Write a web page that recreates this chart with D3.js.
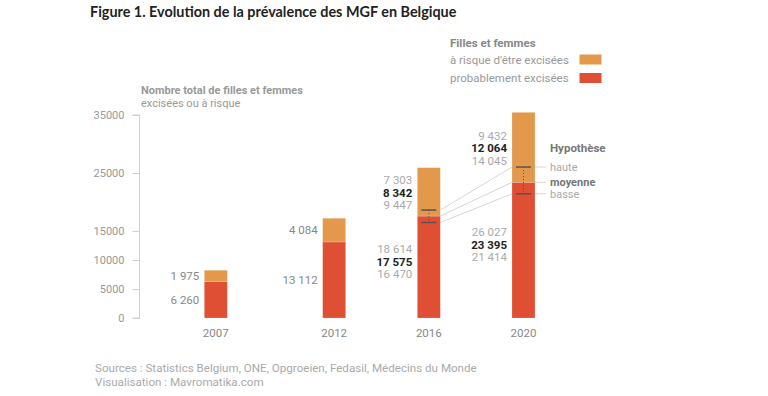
<!DOCTYPE html>
<html><head><meta charset="utf-8">
<script src="https://cdn.jsdelivr.net/npm/d3@7"></script>
<style>
body{margin:0;background:#fff;}
svg{display:block;}
</style></head>
<body>
<svg id="c" width="768" height="396"></svg>
<script>
const years = [2007, 2012, 2016, 2020];
const excised = [6260, 13112, 17575, 23395];          // probablement excisées (hypothèse moyenne)
const atRisk = [1975, 4084, 8342, 12064];             // à risque d'être excisées (moyenne)
const excisedHaute = [null, null, 18614, 26027];
const excisedBasse = [null, null, 16470, 21414];
const atRiskHaute = [null, null, 7303, 9432];
const atRiskBasse = [null, null, 9447, 14045];
const yTicks = [0, 5000, 10000, 15000, 25000, 35000];
const hypLabels = ["haute", "moyenne", "basse"];
const legendLabels = ["à risque d'être excisées", "probablement excisées"];

const C_ORANGE = "#e3994c", C_RED = "#de4f33";
const FONT = "Roboto, 'Noto Sans', sans-serif";
const fmt = v => d3.format(",")(v).replace(/,/g, " ");

const svg = d3.select("#c").style("font-family", FONT);

svg.append("text").attr("x", 90).attr("y", 17)
  .style("font-family", "Lato, sans-serif").style("font-weight", 700)
  .style("font-size", "14.4px").attr("fill", "#222")
  .text("Figure 1. Evolution de la prévalence des MGF en Belgique");

const y = d3.scaleLinear().domain([0, 35000]).range([318, 115]);
const x = d3.scaleLinear().domain([2007, 2020]).range([215.8, 523.5]);
const bw = 23;

// axis
const yAxis = d3.axisLeft(y).tickValues(yTicks).tickFormat(d3.format("d")).tickSize(7).tickPadding(8);
const ga = svg.append("g").attr("transform", "translate(139.5,0)").call(yAxis);
ga.select(".domain").attr("stroke", "#d0d0d0").attr("d", `M-7,${y(35000)}H0V${y(0)}H-7`);
ga.selectAll(".tick line").attr("stroke", "#d0d0d0");
ga.selectAll(".tick text").attr("fill", "#999").style("font-size", "11px").style("font-family", FONT);

// axis title
svg.append("text").attr("x", 141).attr("y", 94).attr("fill", "#999")
  .style("font-size", "11px").style("font-weight", 700).text("Nombre total de filles et femmes");
svg.append("text").attr("x", 141).attr("y", 106.5).attr("fill", "#999")
  .style("font-size", "11px").text("excisées ou à risque");

// hypothesis connector lines (under bars)
const i16 = 2, i20 = 3;
const hypSeries = [excisedHaute, excised, excisedBasse];
const labelX = x(years[i20]) + bw / 2 + 15;
hypSeries.forEach((s, k) => {
  svg.append("path")
    .attr("d", d3.line()([
      [x(years[i16]) + bw / 2, y(s[i16])],
      [x(years[i20]) - bw / 2, y(s[i20])],
      [x(years[i20]) + bw / 2, y(s[i20])],
      [labelX - 4, y(s[i20])]
    ]))
    .attr("fill", "none").attr("stroke", "#d6d6d6").attr("stroke-width", 1);
  svg.append("text").attr("x", labelX).attr("y", y(s[i20]) + (k === 2 ? 0.8 : 0)).attr("dy", "0.35em")
    .attr("fill", k === 1 ? "#777" : "#aaa").style("font-weight", k === 1 ? 700 : 400)
    .style("font-size", "11px").text(hypLabels[k]);
});
svg.append("text").attr("x", labelX).attr("y", y(excisedHaute[i20]) - 19).attr("dy", "0.35em")
  .attr("fill", "#777").style("font-weight", 700).style("font-size", "11.5px").text("Hypothèse");

// bars
years.forEach((yr, i) => {
  const cx = x(yr);
  svg.append("rect").attr("x", cx - bw / 2).attr("width", bw)
    .attr("y", y(excised[i])).attr("height", y(0) - y(excised[i]))
    .attr("fill", C_RED).attr("stroke", "#fff").attr("stroke-opacity", 0.3).attr("stroke-width", 0.6);
  svg.append("rect").attr("x", cx - bw / 2).attr("width", bw)
    .attr("y", y(excised[i] + atRisk[i])).attr("height", y(excised[i]) - y(excised[i] + atRisk[i]))
    .attr("fill", C_ORANGE).attr("stroke", "#fff").attr("stroke-opacity", 0.3).attr("stroke-width", 0.6);

  svg.append("text").attr("x", cx).attr("y", 337).attr("text-anchor", "middle")
    .attr("fill", "#888").style("font-size", "11.5px").text(yr);

  const lx = cx - bw / 2 - 5;
  const midO = (y(excised[i]) + y(excised[i] + atRisk[i])) / 2;
  const midR = (y(0) + y(excised[i])) / 2;
  if (excisedHaute[i] == null) {
    svg.append("text").attr("x", lx).attr("y", midO).attr("dy", "0.35em").attr("text-anchor", "end")
      .attr("fill", "#888").style("font-size", "11.5px").text(fmt(atRisk[i]));
    svg.append("text").attr("x", lx).attr("y", midR).attr("dy", "0.35em").attr("text-anchor", "end")
      .attr("fill", "#888").style("font-size", "11.5px").text(fmt(excised[i]));
  } else {
    const tri = (vals, cy) => vals.forEach((v, k) => {
      svg.append("text").attr("x", lx).attr("y", cy + (k - 1) * 12.6).attr("dy", "0.35em")
        .attr("text-anchor", "end").attr("fill", k === 1 ? "#222" : "#aaa")
        .style("font-weight", k === 1 ? 700 : 400).style("font-size", "11.5px").text(fmt(v));
    });
    tri([atRiskHaute[i], atRisk[i], atRiskBasse[i]], midO + 1);
    tri([excisedHaute[i], excised[i], excisedBasse[i]], midR - 5.5);
    // error bar
    const capW = 15;
    svg.append("line").attr("x1", cx).attr("x2", cx)
      .attr("y1", y(excisedHaute[i])).attr("y2", y(excisedBasse[i]))
      .attr("stroke", "#555").attr("stroke-width", 1).attr("stroke-dasharray", "1,2");
    [excisedHaute[i], excisedBasse[i]].forEach(v => {
      svg.append("line").attr("x1", cx - capW / 2).attr("x2", cx + capW / 2)
        .attr("y1", y(v)).attr("y2", y(v)).attr("stroke", "#555").attr("stroke-width", 1.5);
    });
  }
});

// legend
svg.append("text").attr("x", 450).attr("y", 47).attr("fill", "#888")
  .style("font-weight", 700).style("font-size", "11.5px").text("Filles et femmes");
[C_ORANGE, C_RED].forEach((c, k) => {
  const cy = 59.5 + k * 18.5;
  svg.append("text").attr("x", 450).attr("y", cy).attr("dy", "0.35em").attr("fill", "#999")
    .style("font-size", "11.5px").text(legendLabels[k]);
  svg.append("rect").attr("x", 579.5).attr("y", cy - 5).attr("width", 22).attr("height", 10).attr("fill", c);
});

// sources
svg.append("text").attr("x", 95).attr("y", 372).attr("fill", "#aaa").style("font-size", "11.6px")
  .text("Sources : Statistics Belgium, ONE, Opgroeien, Fedasil, Médecins du Monde");
svg.append("text").attr("x", 95).attr("y", 386).attr("fill", "#aaa").style("font-size", "11.6px")
  .text("Visualisation : Mavromatika.com");
</script>
</body></html>
